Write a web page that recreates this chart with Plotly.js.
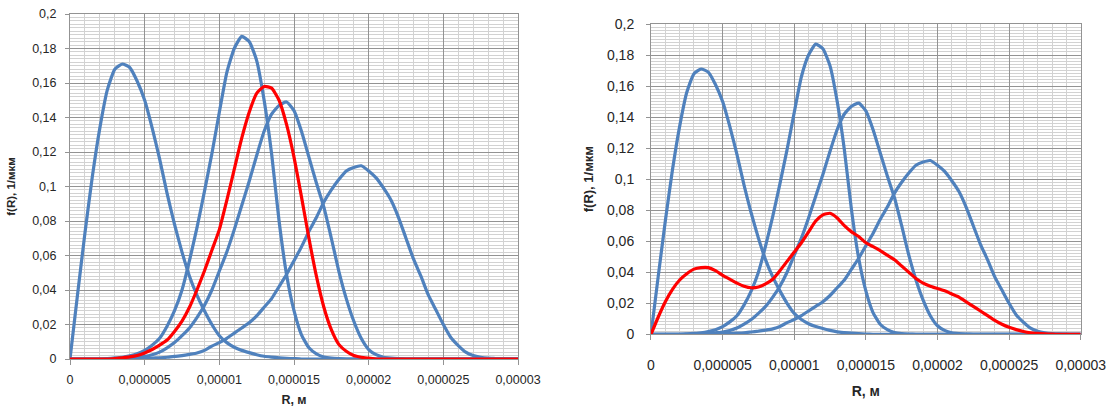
<!DOCTYPE html>
<html>
<head>
<meta charset="utf-8">
<script src="https://cdn.plot.ly/plotly-3.0.1.min.js"></script>
<style>html,body{margin:0;padding:0;background:#fff;}#chart{width:1112px;height:407px;}</style>
</head>
<body>
<div id="chart"></div>
<script>
// R in micrometres (converted to metres for the axis)
var R_um = [0,0.5,1,1.5,2,2.5,3,3.5,4,4.5,5,5.5,6,6.5,7,7.5,8,8.5,9,9.5,10,10.5,11,11.5,12,12.5,13,13.5,14,14.5,15,15.5,16,16.5,17,17.5,18,18.5,19,19.5,20,20.5,21,21.5,22,22.5,23,23.5,24,24.5,25,25.5,26,26.5,27,27.5,28,28.5,29,29.5,30];

// blue curves (same in both panels)
var fA = [0,0.037,0.073,0.106,0.134,0.156,0.168,0.171,0.169,0.161,0.150,0.134,0.116,0.096,0.078,0.062,0.048,0.037,0.028,0.020,0.0135,0.0095,0.0068,0.005,0.0037,0.0025,0.0016,0.0011,0.0007,0.0004,0.0002,0,0,0,0,0,0,0,0,0,0,0,0,0,0,0,0,0,0,0,0,0,0,0,0,0,0,0,0,0,0];
var fB = [0,0,0,0,0,0.0003,0.0006,0.001,0.0018,0.003,0.005,0.008,0.012,0.019,0.028,0.040,0.057,0.076,0.097,0.119,0.143,0.166,0.180,0.187,0.184,0.173,0.150,0.119,0.080,0.049,0.028,0.014,0.0065,0.003,0.0012,0.0005,0.0002,0,0,0,0,0,0,0,0,0,0,0,0,0,0,0,0,0,0,0,0,0,0,0,0];
var fC = [0,0,0,0,0,0,0,0,0.0005,0.001,0.0015,0.0025,0.004,0.0065,0.0095,0.0135,0.018,0.024,0.031,0.040,0.051,0.062,0.075,0.089,0.103,0.118,0.132,0.142,0.147,0.149,0.144,0.132,0.117,0.102,0.088,0.070,0.051,0.035,0.022,0.012,0.0055,0.0025,0.001,0.0005,0.0002,0,0,0,0,0,0,0,0,0,0,0,0,0,0,0,0];
var fD = [0,0,0,0,0,0,0,0,0,0,0.0003,0.0005,0.0007,0.001,0.0015,0.002,0.0027,0.0035,0.005,0.0075,0.0095,0.012,0.015,0.018,0.021,0.025,0.030,0.035,0.042,0.049,0.057,0.065,0.074,0.082,0.091,0.098,0.104,0.109,0.111,0.112,0.109,0.105,0.099,0.092,0.082,0.070,0.058,0.048,0.037,0.0285,0.020,0.0125,0.0078,0.004,0.002,0.001,0.0005,0.0003,0.0001,0,0];

// red curves
var fRedLeft = [0,0,0,0,0,0,0.0003,0.0007,0.0012,0.002,0.0035,0.0055,0.008,0.011,0.016,0.022,0.030,0.040,0.051,0.063,0.075,0.092,0.110,0.128,0.143,0.154,0.158,0.157,0.150,0.136,0.117,0.094,0.070,0.048,0.030,0.017,0.0085,0.0045,0.002,0.001,0.0005,0,0,0,0,0,0,0,0,0,0,0,0,0,0,0,0,0,0,0,0];
var fRedRight = [0,0.011,0.021,0.029,0.035,0.039,0.042,0.043,0.043,0.041,0.038,0.0355,0.033,0.031,0.030,0.0305,0.0325,0.0355,0.041,0.047,0.053,0.059,0.066,0.073,0.077,0.078,0.075,0.070,0.066,0.063,0.059,0.0565,0.054,0.051,0.048,0.044,0.040,0.036,0.033,0.031,0.0295,0.028,0.026,0.024,0.021,0.018,0.015,0.012,0.009,0.0065,0.0045,0.003,0.0018,0.001,0.0006,0.0003,0.0001,0,0,0,0];

var xTitle = 'R, м';
var yTitle = 'f(R), 1/мкм';

var R = R_um.map(function(v){return v*1e-6;});
var BLUE = '#4f81bd', RED = '#ff0000';

function tr(y, color, xa, ya){
  return {x:R, y:y, type:'scatter', mode:'lines', xaxis:xa, yaxis:ya,
          line:{color:color, width:3.2, shape:'spline', smoothing:0.5}, hoverinfo:'skip'};
}
var blues = [fA,fB,fC,fD];
var data = [];
blues.forEach(function(s){data.push(tr(s,BLUE,'x','y'));});
data.push(tr(fRedLeft,RED,'x','y'));
blues.forEach(function(s){data.push(tr(s,BLUE,'x2','y2'));});
data.push(tr(fRedRight,RED,'x2','y2'));

var MAJ = '#939393', MIN = '#d2d2d2';
function xax(domain, anchor, fs, tls, tstand){
  return {domain:domain, anchor:anchor, range:[0,0.00003], tick0:0, dtick:0.000005,
    tickformat:'.6~f', showgrid:true, gridcolor:MAJ, gridwidth:1, zeroline:false,
    minor:{dtick:0.000001, showgrid:true, gridcolor:MIN, gridwidth:1, ticks:''},
    showline:true, linecolor:MAJ, linewidth:1, mirror:true,
    ticks:'outside', ticklen:5, tickcolor:MAJ, ticklabelstandoff:tls,
    tickfont:{size:fs, color:'#262626'},
    title:{text:'<b>'+xTitle+'</b>', font:{size:fs, color:'#262626'}, standoff:tstand}};
}
function yax(domain, anchor, fs, tls, tstand){
  return {domain:domain, anchor:anchor, range:[0,0.2], tick0:0, dtick:0.02,
    tickformat:'.2~f', showgrid:true, gridcolor:MAJ, gridwidth:1, zeroline:false,
    minor:{dtick:0.002, showgrid:true, gridcolor:MIN, gridwidth:1, ticks:''},
    showline:true, linecolor:MAJ, linewidth:1, mirror:true,
    ticks:'outside', ticklen:4, tickcolor:MAJ, ticklabelstandoff:tls,
    tickfont:{size:fs, color:'#262626'},
    title:{text:'<b>'+yTitle+'</b>', font:{size:fs-1, color:'#262626'}, standoff:tstand}};
}

var layout = {
  width:1112, height:407, margin:{l:0,r:0,t:0,b:0,pad:0},
  paper_bgcolor:'#ffffff', plot_bgcolor:'#ffffff', showlegend:false,
  separators:', ',
  font:{family:'Liberation Sans, Arial, sans-serif', color:'#262626'},
  xaxis: xax([0.06295,0.46583],'y',12.5,4,28),
  yaxis: yax([0.11794,0.96560],'x',12.5,6,14),
  xaxis2: xax([0.58543,0.97185],'y2',14,13,14),
  yaxis2: yax([0.17862,0.94103],'x2',14,9,10)
};

Plotly.newPlot('chart', data, layout, {staticPlot:true, displayModeBar:false});
</script>
</body>
</html>
